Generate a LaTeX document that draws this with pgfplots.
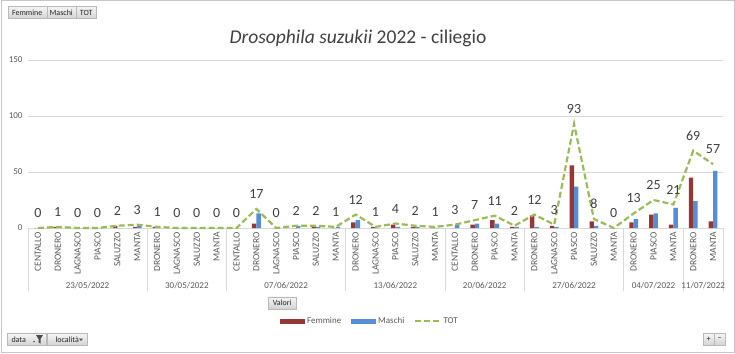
\documentclass[border=0pt]{standalone}
\usepackage{pgfplots}
\pgfplotsset{compat=1.18}
\usepackage{pgfplotstable}
\usepackage{fontspec}
\setmainfont{Carlito}
\definecolor{femm}{HTML}{953735}
\definecolor{masc}{HTML}{558ED5}
\definecolor{totc}{HTML}{9BBB59}
\definecolor{txt}{HTML}{595959}
\definecolor{dark}{HTML}{404040}
\definecolor{gridc}{HTML}{D9D9D9}

\pgfplotstableread{
x F M T
0 0 0 0
1 1 0 1
2 0 0 0
3 0 0 0
4 2 0 2
5 1 2 3
6 1 0 1
7 0 0 0
8 0 0 0
9 0 0 0
10 0 0 0
11 4 13 17
12 0 0 0
13 0 2 2
14 1 1 2
15 0 1 1
16 5 7 12
17 1 0 1
18 3 1 4
19 1 1 2
20 1 0 1
21 0 3 3
22 3 4 7
23 7 4 11
24 1 1 2
25 11 1 12
26 2 1 3
27 56 37 93
28 6 2 8
29 0 0 0
30 5 8 13
31 12 13 25
32 3 18 21
33 45 24 69
34 6 51 57
}\datatable

\tikzset{btn/.style={draw=gray!55, top color=gray!8, bottom color=gray!35, inner sep=1pt,
  font=\fontsize{8}{9}\selectfont, text=black!85, minimum height=12pt, anchor=west},
  sep/.style={gridc, line width=0.8pt},
  grp/.style={font=\fontsize{9}{10}\selectfont, text=txt}}

\begin{document}
\begin{tikzpicture}
\useasboundingbox (0,0) rectangle (735pt,353pt);
\draw[gray!45, line width=1pt] (1pt,1pt) rectangle (734pt,352pt);

% top buttons
\node[btn, minimum width=38pt] at (8pt,340.5pt) {Femmine};
\node[btn, minimum width=29pt] at (46.5pt,340.5pt) {Maschi};
\node[btn, minimum width=20pt] at (76pt,340.5pt) {TOT};

% title
\node[font=\fontsize{19.5}{22}\selectfont, text=dark] at (358pt,314.5pt) {\textit{Drosophila suzukii} 2022 - ciliegio};

\begin{axis}[
  at={(28pt,125pt)}, anchor=south west,
  width=695pt, height=168pt, scale only axis,
  clip=false,
  xmin=-0.5, xmax=34.5, ymin=0, ymax=150,
  ytick={0,50,100,150},
  axis x line*=bottom, axis y line*=left,
  x axis line style={draw=gridc, line width=0.8pt},
  y axis line style={draw=none},
  ymajorgrids, grid style={gridc, line width=0.8pt},
  major tick length=0pt,
  yticklabel style={font=\fontsize{9}{10}\selectfont, text=txt, xshift=-2pt},
  /pgf/number format/assume math mode=true,
  xtick={0,...,34},
  xticklabels={CENTALLO,DRONERO,LAGNASCO,PIASCO,SALUZZO,MANTA,
    DRONERO,LAGNASCO,SALUZZO,MANTA,
    CENTALLO,DRONERO,LAGNASCO,PIASCO,SALUZZO,MANTA,
    DRONERO,LAGNASCO,PIASCO,SALUZZO,MANTA,
    CENTALLO,DRONERO,PIASCO,MANTA,
    DRONERO,LAGNASCO,PIASCO,SALUZZO,MANTA,
    DRONERO,PIASCO,MANTA,
    DRONERO,MANTA},
  xticklabel style={rotate=90, anchor=east, font=\fontsize{9.5}{11}\selectfont, text=txt, inner sep=0pt},
  xticklabel shift=4pt,
  legend style={at={(0.492,-0.554)}, anchor=center, draw=none, fill=none,
    legend columns=3, font=\fontsize{9}{10}\selectfont, text=txt,
    /tikz/every even column/.append style={column sep=8pt}},
]
\addplot[ybar, bar width=4.4pt, bar shift=-2.2pt, fill=femm, draw=none,
  legend image code/.code={\fill[femm] (0pt,-2.5pt) rectangle (25pt,2.5pt);}]
  table[x=x, y=F] {\datatable};
\addlegendentry{Femmine}
\addplot[ybar, bar width=4.4pt, bar shift=2.2pt, fill=masc, draw=none,
  legend image code/.code={\fill[masc] (0pt,-2.5pt) rectangle (25pt,2.5pt);}]
  table[x=x, y=M] {\datatable};
\addlegendentry{Maschi}
\addplot[sharp plot, totc, line width=2.2pt, dash pattern=on 6pt off 3pt,
  nodes near coords, point meta=y,
  every node near coord/.style={font=\fontsize{14}{16}\selectfont, text=dark, anchor=center, yshift=15pt, solid},
  legend image code/.code={\draw[totc, line width=2.2pt, dash pattern=on 6pt off 3pt] (0pt,0pt) -- (25pt,0pt);}]
  table[x=x, y=T] {\datatable};
\addlegendentry{TOT}

% group separators
\draw[sep] (axis cs:-0.5,0) -- ([yshift=-63pt]axis cs:-0.5,0);
\draw[sep] (axis cs:5.5,0) -- ([yshift=-63pt]axis cs:5.5,0);
\draw[sep] (axis cs:9.5,0) -- ([yshift=-63pt]axis cs:9.5,0);
\draw[sep] (axis cs:15.5,0) -- ([yshift=-63pt]axis cs:15.5,0);
\draw[sep] (axis cs:20.5,0) -- ([yshift=-63pt]axis cs:20.5,0);
\draw[sep] (axis cs:24.5,0) -- ([yshift=-63pt]axis cs:24.5,0);
\draw[sep] (axis cs:29.5,0) -- ([yshift=-63pt]axis cs:29.5,0);
\draw[sep] (axis cs:32.5,0) -- ([yshift=-63pt]axis cs:32.5,0);
\draw[sep] (axis cs:34.5,0) -- ([yshift=-63pt]axis cs:34.5,0);
% group labels
\node[grp] at ([yshift=-57.7pt]axis cs:2.5,0) {23/05/2022};
\node[grp] at ([yshift=-57.7pt]axis cs:7.5,0) {30/05/2022};
\node[grp] at ([yshift=-57.7pt]axis cs:12.5,0) {07/06/2022};
\node[grp] at ([yshift=-57.7pt]axis cs:18,0) {13/06/2022};
\node[grp] at ([yshift=-57.7pt]axis cs:22.5,0) {20/06/2022};
\node[grp] at ([yshift=-57.7pt]axis cs:27,0) {27/06/2022};
\node[grp] at ([yshift=-57.7pt]axis cs:31,0) {04/07/2022};
\node[grp] at ([yshift=-57.7pt]axis cs:33.5,0) {11/07/2022};
\end{axis}

% Valori button
\node[btn, minimum width=28pt] at (268pt,50pt) {Valori};

% bottom buttons
\node[btn, minimum width=39pt, align=left] (d) at (7pt,13.5pt) {data\hspace{16pt}};
\fill[black!70] (33pt,12pt) -- (35pt,12pt) -- (34pt,10.5pt) -- cycle;
\fill[black!70] (36pt,18pt) -- (43pt,18pt) -- (40.5pt,14pt) -- (40.5pt,9.5pt) -- (38.5pt,10.5pt) -- (38.5pt,14pt) -- cycle;
\node[btn, minimum width=40pt] at (47pt,13.5pt) {località\hspace{10pt}};
\fill[black!70] (79pt,14.5pt) -- (83pt,14.5pt) -- (81pt,12pt) -- cycle;
\node[btn, minimum width=11pt] at (703pt,13.5pt) {+};
\node[btn, minimum width=11pt] at (714pt,13.5pt) {\textminus};
\end{tikzpicture}
\end{document}
